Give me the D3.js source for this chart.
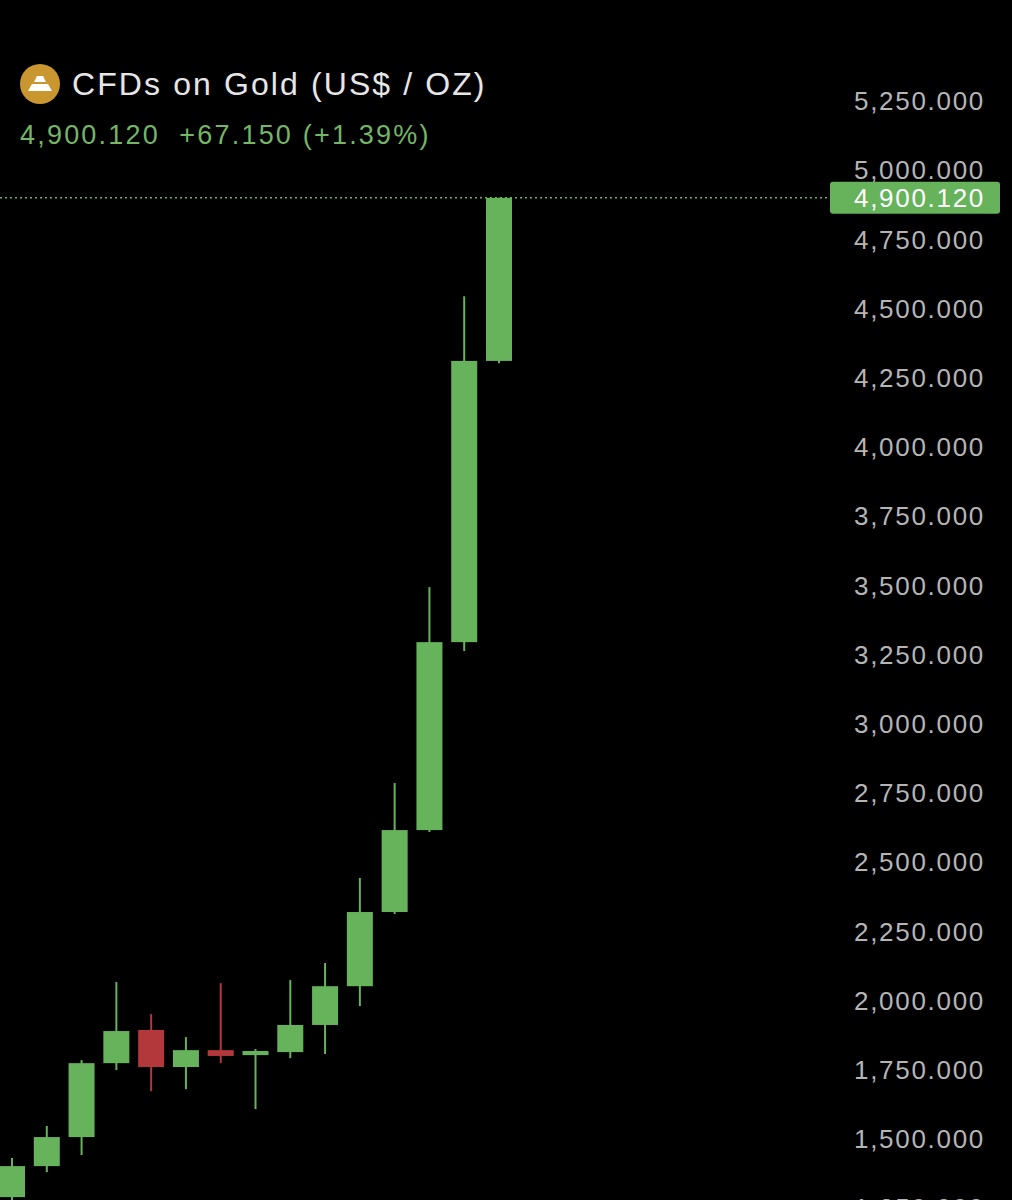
<!DOCTYPE html>
<html><head><meta charset="utf-8">
<script src="https://cdn.jsdelivr.net/npm/d3@7"></script>
<style>body{margin:0;background:#000}</style>
</head><body>
<script>
// candle values (monthly-ish bars)
var opens  = [1290, 1402, 1507, 1774, 1894, 1760, 1821, 1803, 1814, 1912, 2052, 2320, 2616, 3295, 4311];
var highs  = [1431, 1547, 1785, 2067, 1951, 1868, 2063, 1825, 2074, 2136, 2443, 2786, 3494, 4545, 4900.12];
var lows   = [1250, 1380, 1442, 1749, 1673, 1680, 1774, 1608, 1792, 1807, 1980, 2313, 2609, 3263, 4303];
var closes = [1402, 1507, 1774, 1890, 1760, 1821, 1800, 1818, 1912, 2052, 2320, 2616, 3295, 4311, 4900.12];
var yTicks = [1250, 1500, 1750, 2000, 2250, 2500, 2750, 3000, 3250, 3500, 3750, 4000, 4250, 4500, 4750, 5000, 5250];
var lastPrice = 4900.12;

var green = "#66b35c", red = "#b2383b";

var svg = d3.select("body").append("svg").attr("width", 1012).attr("height", 1200);
svg.append("rect").attr("width", 1012).attr("height", 1200).attr("fill", "#000");

var y = d3.scaleLinear().domain([1500, 5250]).range([1139, 101]);
var x = d3.scaleLinear().domain([0, 14]).range([12, 499]);
var bw = 26;

// price axis labels
var fmt = d3.format(",.3f");
svg.selectAll(".tick").data(yTicks).enter().append("text")
  .attr("x", 985).attr("y", function(d){ return y(d); })
  .attr("dy", "0.35em").attr("text-anchor", "end")
  .attr("font-family", "Helvetica, Arial, sans-serif").attr("font-size", 26)
  .attr("letter-spacing", 1.7)
  .attr("fill", "#b5b5b5").text(function(d){ return fmt(d); });

// last price line + tag
svg.append("line").attr("x1", 0).attr("x2", 830).attr("y1", y(lastPrice)).attr("y2", y(lastPrice))
  .attr("stroke", green).attr("stroke-width", 1.5).attr("stroke-dasharray", "2,3");
svg.append("rect").attr("x", 830).attr("y", y(lastPrice) - 16).attr("width", 170).attr("height", 32)
  .attr("rx", 3).attr("fill", green);
svg.append("text").attr("x", 985).attr("y", y(lastPrice)).attr("dy", "0.35em").attr("text-anchor", "end")
  .attr("font-family", "Helvetica, Arial, sans-serif").attr("font-size", 26).attr("fill", "#fff")
  .attr("letter-spacing", 1.7)
  .text(fmt(lastPrice));

// candles
var idx = d3.range(opens.length);
var col = function(i){ return closes[i] >= opens[i] ? green : red; };
svg.selectAll(".wick").data(idx).enter().append("line")
  .attr("x1", x).attr("x2", x)
  .attr("y1", function(i){ return y(highs[i]); }).attr("y2", function(i){ return y(lows[i]); })
  .attr("stroke", col).attr("stroke-width", 2);
svg.selectAll(".body").data(idx).enter().append("rect")
  .attr("x", function(i){ return x(i) - bw / 2; }).attr("width", bw)
  .attr("y", function(i){ return y(Math.max(opens[i], closes[i])); })
  .attr("height", function(i){ return Math.max(3, Math.abs(y(opens[i]) - y(closes[i]))); })
  .attr("fill", col);

// header
var ic = svg.append("g").attr("transform", "translate(40,84)");
ic.append("circle").attr("r", 20).attr("fill", "#c9962f");
ic.append("path").attr("d", "M-12,7 L-8,0 L8,0 L12,7 Z M-6,-2 L-3,-8 L3,-8 L6,-2 Z").attr("fill", "#fff");
svg.append("text").attr("x", 72).attr("y", 84).attr("dy", "0.35em")
  .attr("font-family", "Helvetica, Arial, sans-serif").attr("font-size", 32).attr("fill", "#e6e6e6")
  .attr("letter-spacing", 2.1)
  .text("CFDs on Gold (US$ / OZ)");
svg.append("text").attr("x", 20).attr("y", 135).attr("dy", "0.35em")
  .attr("font-family", "Helvetica, Arial, sans-serif").attr("font-size", 27).attr("fill", "#75b566")
  .attr("letter-spacing", 2.2).attr("xml:space", "preserve").style("white-space", "pre")
  .text("4,900.120  +67.150 (+1.39%)");
</script>
</body></html>
